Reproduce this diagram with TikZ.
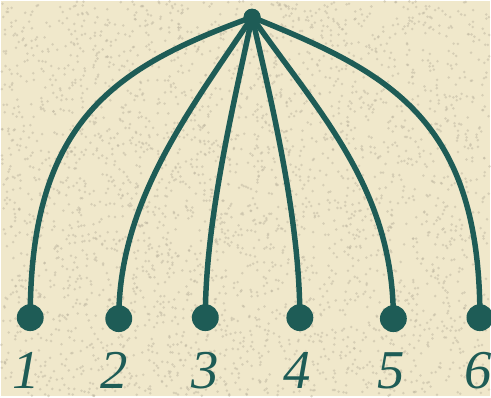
\documentclass[tikz,border=0pt]{standalone}
\usepackage{fontspec}
\setmainfont{Liberation Serif}
\definecolor{ink}{RGB}{30,92,86}
\definecolor{paper}{RGB}{240,232,203}
\definecolor{speck}{RGB}{190,182,160}
\begin{document}
\begin{tikzpicture}[x=1pt,y=1pt,
  wire/.style={draw=ink, line width=5.5pt},
  dotnode/.style={circle, fill=ink, inner sep=0pt, minimum size=27pt},
  topnode/.style={circle, fill=ink, inner sep=0pt, minimum size=17pt},
  lbl/.style={text=ink, font=\fontsize{55}{55}\selectfont\itshape, inner sep=0pt}]
\fill[paper] (0,0) rectangle (491,397);
\pgfmathsetseed{7}
\foreach \i in {1,...,3200}{
  \pgfmathsetmacro\px{491*rnd}
  \pgfmathsetmacro\py{397*rnd}
  \fill[speck, opacity=0.5] (\px,\py) circle[radius=1.4pt];
}
\useasboundingbox (0,0) rectangle (491,397);
\node[topnode] (t) at (252,381) {};
\node[dotnode] (d1) at (29,79) {};
\node[dotnode] (d2) at (118,78) {};
\node[dotnode] (d3) at (205,79) {};
\node[dotnode] (d4) at (300,79) {};
\node[dotnode] (d5) at (394,78) {};
\node[dotnode] (d6) at (481,79) {};
\node[lbl] (l1) at (25,26) {1};
\node[lbl] (l2) at (113,26) {2};
\node[lbl] (l3) at (205,26) {3};
\node[lbl] (l4) at (297,26) {4};
\node[lbl] (l5) at (392,26) {5};
\node[lbl] (l6) at (479,26) {6};
\draw[wire] (t.center) to[out=200,in=90,out looseness=1.0,in looseness=1.35] (d1.center);
\draw[wire] (t.center) to[out=236,in=90,out looseness=0.9,in looseness=0.9] (d2.center);
\draw[wire] (t.center) to[out=258,in=90,looseness=0.8] (d3.center);
\draw[wire] (t.center) to[out=283,in=90,looseness=0.8] (d4.center);
\draw[wire] (t.center) to[out=305,in=90,out looseness=0.9,in looseness=1.0] (d5.center);
\draw[wire] (t.center) to[out=338,in=90,out looseness=1.0,in looseness=1.35] (d6.center);
\node[topnode] at (t) {};
\end{tikzpicture}
\end{document}
